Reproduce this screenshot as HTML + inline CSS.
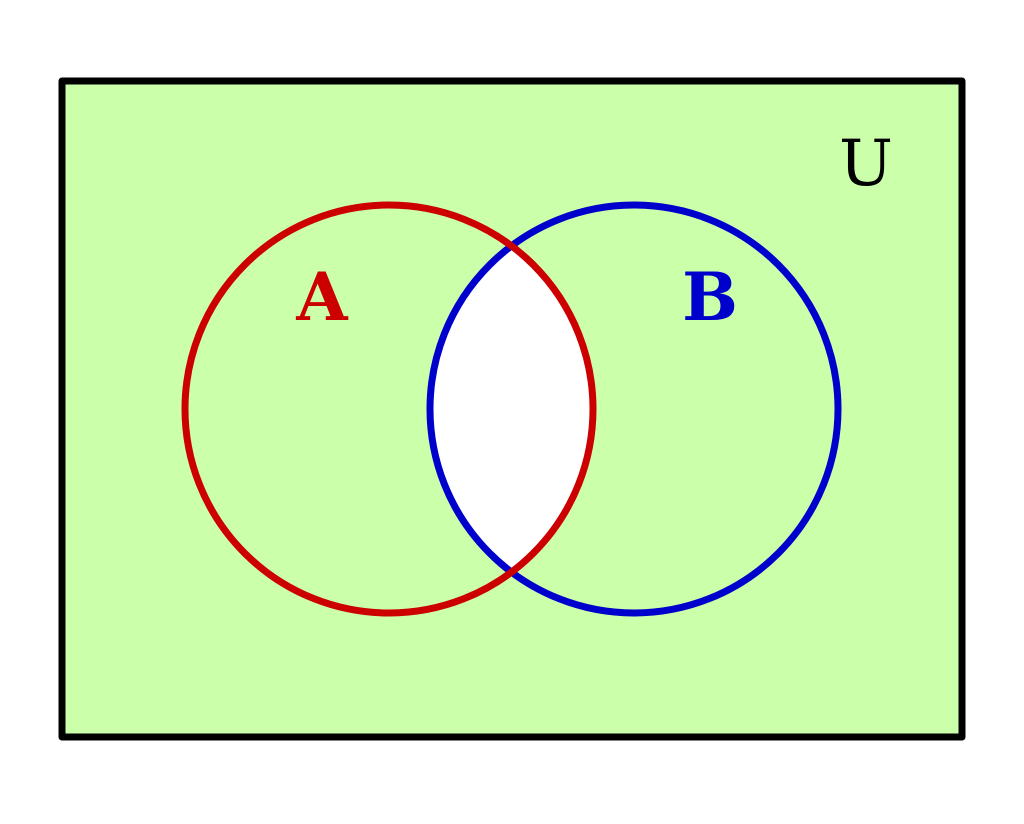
<!DOCTYPE html>
<html><head><style>html,body{margin:0;padding:0;background:#fff}</style></head>
<body>
<svg width="1024" height="819" viewBox="0 0 1024 819" xmlns="http://www.w3.org/2000/svg">
<defs><clipPath id="ca"><circle cx="389" cy="409" r="204"/></clipPath></defs>
<rect x="62" y="81" width="900" height="656" fill="#ccffaa" stroke="#000" stroke-width="7" stroke-linejoin="round"/>
<circle cx="634" cy="409" r="204" fill="#fff" clip-path="url(#ca)"/>
<circle cx="634" cy="409" r="204" fill="none" stroke="#0000cc" stroke-width="7"/>
<circle cx="389" cy="409" r="204" fill="none" stroke="#cc0000" stroke-width="7"/>
<text x="322" y="320" font-family="DejaVu Serif, serif" font-weight="bold" font-size="66" fill="#cc0000" text-anchor="middle">A</text>
<text x="710" y="320" font-family="DejaVu Serif, serif" font-weight="bold" font-size="66" fill="#0000cc" text-anchor="middle">B</text>
<text x="866" y="185" font-family="DejaVu Serif, serif" font-size="64" fill="#000" text-anchor="middle">U</text>
</svg>
</body></html>
